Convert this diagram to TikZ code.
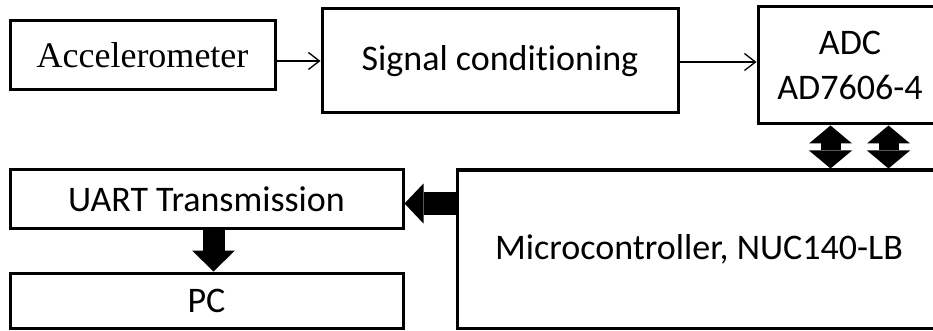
\documentclass[tikz,border=0pt]{standalone}
\usepackage{fontspec}
\setmainfont[Ligatures={NoCommon}]{Carlito}
\newfontfamily\timesface{Liberation Serif}
\usetikzlibrary{arrows.meta,calc}

\tikzset{
  bushead/.tip={Triangle[width=43pt,length=18pt,line width=0pt]},
  blk/.style={draw, line width=3pt, fill=white, inner sep=0pt,
    font=\fontsize{36}{45}\selectfont, align=center},
  thinarrow/.style={line width=1.3pt,
    -{Straight Barb[length=11pt,width=17pt,line width=1.3pt]}}
}

\begin{document}
\begin{tikzpicture}[x=1pt,y=-1pt]
\useasboundingbox (0,0) rectangle (933,331);
\fill[white] (0,0) rectangle (933,331);

% blocks
\node[blk, minimum width=265pt, minimum height=69pt, font=\timesface\fontsize{36}{45}\selectfont]
  (acc) at (142.5,55.5) {Accelerometer};
\node[blk, minimum width=356pt, minimum height=104pt] (sig) at (500,61) {Signal conditioning};
\node[blk, minimum width=184pt, minimum height=117pt] (adc) at (850,65.5) {ADC\\AD7606-4};
\node[blk, minimum width=484pt, minimum height=158pt] (mcu) at (699,249) {Microcontroller, NUC140-LB};
\node[blk, minimum width=393pt, minimum height=58pt] (uart) at (206.5,199) {UART Transmission};
\node[blk, minimum width=393pt, minimum height=55pt] (pc) at (206.5,300.5) {PC};

% signal path
\draw[thinarrow] (acc.east |- sig.west) -- (sig.west);
\draw[thinarrow] ($(sig.east)+(0,1)$) -- ($(adc.west |- sig.east)+(0,1)$);

% bidirectional bus between ADC and microcontroller
\coordinate (busA) at ($(adc.south west)+(74,0)$);
\coordinate (busB) at ($(adc.south west)+(132,0)$);
\draw[line width=20pt, bushead-bushead] (busA) -- (busA |- mcu.north);
\draw[line width=20pt, bushead-bushead] (busB) -- (busB |- mcu.north);

% microcontroller to UART
\draw[line width=23pt, -{Triangle[width=40pt,length=19pt,line width=0pt]}]
  ($(mcu.west |- uart.east)+(0,4.5)$) -- ($(uart.east)+(0,4.5)$);

% UART to PC
\draw[line width=22pt, -{Triangle[width=43pt,length=21pt,line width=0pt]}]
  ($(uart.south)+(7,0)$) -- ($(pc.north)+(7,0)$);
\end{tikzpicture}
\end{document}
